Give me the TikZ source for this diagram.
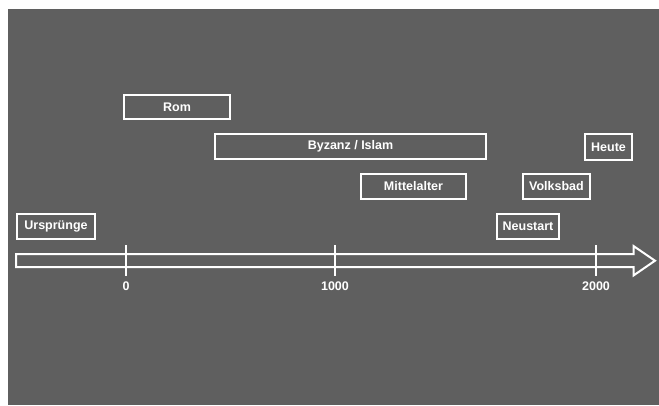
\documentclass[tikz,border=0pt]{standalone}
\usepackage{fontspec}
\setmainfont{Liberation Sans}
\definecolor{bggrey}{HTML}{5F5F5F}
\begin{document}
\begin{tikzpicture}[x=1pt,y=-1pt,
  every node/.style={text=white,font=\fontsize{12.5}{14}\selectfont\bfseries},
  era/.style={draw=white,line width=2pt,inner sep=0pt,minimum height=25pt},
  tick/.style={draw=white,line width=2pt},
  year/.style={inner sep=0pt}]
\useasboundingbox (0,0) rectangle (659,405);
\fill[white] (0,0) rectangle (659,405);
\fill[bggrey] (8,9) rectangle (659,405);
% arrow
\draw[white,line width=2pt,line join=miter] (16,254) -- (633.5,254) -- (633.5,246) -- (655,260.7) -- (633.5,275.5) -- (633.5,267) -- (16,267) -- cycle;
% ticks
\coordinate (t0a) at (126,245); \coordinate (t0b) at (126,276);
\coordinate (t1a) at (335,245); \coordinate (t1b) at (335,276);
\coordinate (t2a) at (596,245); \coordinate (t2b) at (596,276);
\draw[tick] (t0a) -- (t0b);
\draw[tick] (t1a) -- (t1b);
\draw[tick] (t2a) -- (t2b);
\node[year] (y0) at (126,286) {0};
\node[year] (y1) at (335,286) {1000};
\node[year] (y2) at (596,286) {2000};
% eras
\node[era,minimum width=106pt,minimum height=24pt] (rom) at (177,107) {Rom};
\node[era,minimum width=271pt] (byz) at (350.5,146.5) {Byzanz / Islam};
\node[era,minimum width=47pt,minimum height=26pt] (heute) at (608.5,147) {Heute};
\node[era,minimum width=105pt] (mitt) at (413.5,186.5) {Mittelalter};
\node[era,minimum width=67pt] (volk) at (556.5,186.5) {Volksbad};
\node[era,minimum width=78pt] (urs) at (56,226.5) {Ursprünge};
\node[era,minimum width=62pt] (neu) at (528,226.5) {Neustart};
\end{tikzpicture}
\end{document}
